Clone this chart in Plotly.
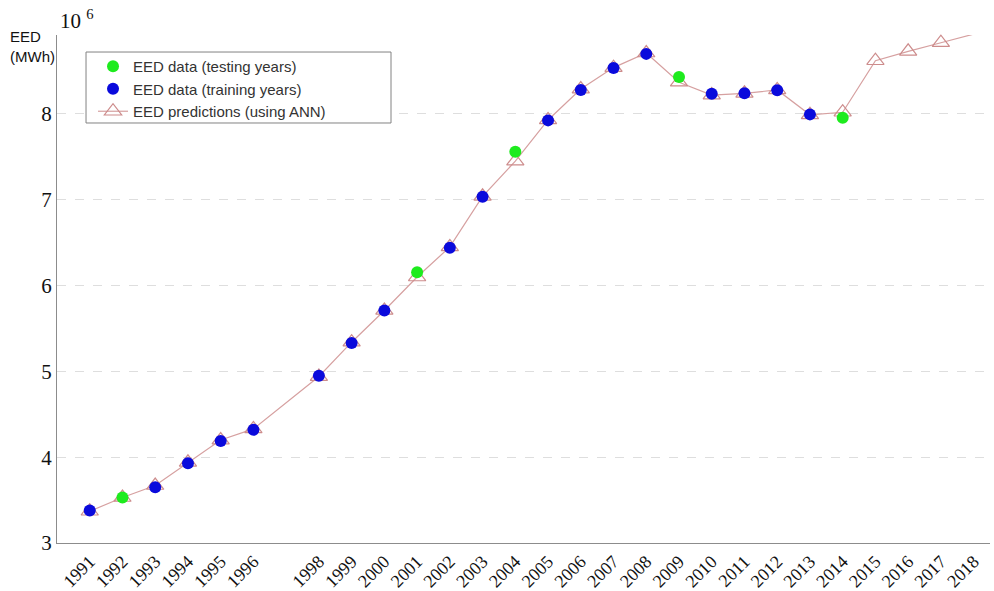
import plotly.graph_objects as go

# EED data (x10^6 MWh)
data_years = [1991, 1992, 1993, 1994, 1995, 1996, 1998, 1999, 2000, 2001, 2002,
              2003, 2004, 2005, 2006, 2007, 2008, 2009, 2010, 2011, 2012, 2013, 2014]
data_eed = [3.38, 3.53, 3.65, 3.93, 4.19, 4.32, 4.95, 5.33, 5.71, 6.155, 6.44,
            7.035, 7.56, 7.925, 8.28, 8.535, 8.70, 8.43, 8.235, 8.24, 8.275, 7.995, 7.955]
testing_years = [1992, 2001, 2004, 2009, 2014]

pred_years = [1991, 1992, 1993, 1994, 1995, 1996, 1998, 1999, 2000, 2001, 2002,
              2003, 2004, 2005, 2006, 2007, 2008, 2009, 2010, 2011, 2012, 2013, 2014,
              2015, 2016, 2017, 2018]
pred_eed = [3.37, 3.53, 3.67, 3.94, 4.20, 4.33, 4.94, 5.34, 5.71, 6.10, 6.45,
            7.04, 7.45, 7.93, 8.29, 8.54, 8.71, 8.37, 8.22, 8.24, 8.28, 7.99, 8.02,
            8.62, 8.73, 8.83, 8.93]

tick_years = pred_years
y_ticks = [3, 4, 5, 6, 7, 8]

test_x = [y for y in data_years if y in testing_years]
test_y = [v for y, v in zip(data_years, data_eed) if y in testing_years]
train_x = [y for y in data_years if y not in testing_years]
train_y = [v for y, v in zip(data_years, data_eed) if y not in testing_years]

fig = go.Figure()
fig.add_trace(go.Scatter(
    x=pred_years, y=pred_eed, mode="lines+markers",
    name="EED predictions (using ANN)", legendrank=3,
    line=dict(color="rgb(214,160,160)", width=1.2),
    marker=dict(symbol="triangle-up-open", size=15, color="rgb(205,140,140)",
                line=dict(width=1.2)),
    cliponaxis=False,
))
fig.add_trace(go.Scatter(
    x=test_x, y=test_y, mode="markers", name="EED data (testing years)", legendrank=1,
    marker=dict(symbol="circle", size=12, color="rgb(30,235,30)"),
    cliponaxis=False,
))
fig.add_trace(go.Scatter(
    x=train_x, y=train_y, mode="markers", name="EED data (training years)", legendrank=2,
    marker=dict(symbol="circle", size=12, color="rgb(10,10,220)"),
    cliponaxis=False,
))

fig.update_layout(
    width=994, height=591,
    margin=dict(l=57, r=4, t=35, b=48),
    plot_bgcolor="white", paper_bgcolor="white",
    showlegend=True,
    legend=dict(
        x=0.0386, y=0.9705, xanchor="left", yanchor="top",
        borderwidth=0, bgcolor="rgba(0,0,0,0)",
        font=dict(family="Liberation Sans, Arial, sans-serif", size=15, color="#333"),
        traceorder="normal",
    ),
    xaxis=dict(
        range=[1990, 2018.5], tickmode="array", tickvals=tick_years,
        ticktext=[str(y) for y in tick_years], tickangle=-45, automargin=False,
        showline=True, linecolor="rgb(140,140,140)", linewidth=1,
        showgrid=False, zeroline=False, ticks="",
        tickfont=dict(family="Liberation Serif, Times New Roman, serif", size=18, color="#111"),
    ),
    yaxis=dict(
        range=[3, 8.92], tickmode="array", tickvals=y_ticks, automargin=False,
        showline=True, linecolor="rgb(140,140,140)", linewidth=1,
        showgrid=True, gridcolor="rgb(222,222,222)", griddash="dash", gridwidth=1,
        zeroline=False, ticks="",
        tickfont=dict(family="Liberation Serif, Times New Roman, serif", size=21, color="#111"),
    ),
    shapes=[
        dict(type="rect", xref="paper", yref="paper", x0=0.0311, x1=0.358,
             y0=0.8268, y1=0.9665, line=dict(color="rgb(130,130,130)", width=1),
             fillcolor="white", layer="above"),
    ],
    annotations=[
        dict(text="10 <sup>6</sup>", xref="paper", yref="paper", x=0.0, y=1.0,
             xanchor="left", yanchor="bottom", showarrow=False, yshift=0, xshift=1,
             font=dict(family="Liberation Serif, Times New Roman, serif", size=21, color="#111")),
        dict(text="EED<br>(MWh)", xref="paper", yref="paper", x=-0.053, y=1.018,
             xanchor="left", yanchor="top", align="left", showarrow=False,
             font=dict(family="Liberation Sans, Arial, sans-serif", size=15, color="#111")),
    ],
)

fig.write_html("out.html", config={"displayModeBar": False},
               post_script="document.body.style.margin='0px';")
